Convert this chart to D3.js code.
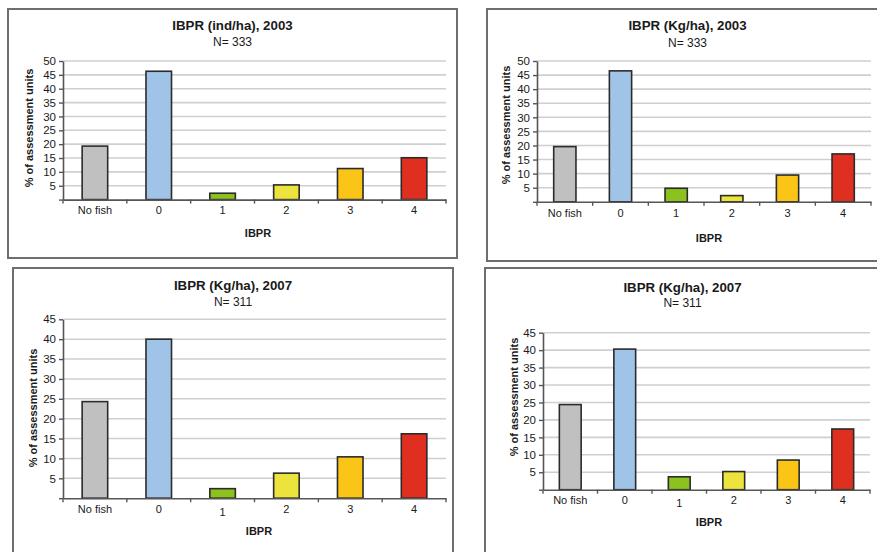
<!DOCTYPE html>
<html>
<head>
<meta charset="utf-8">
<script src="https://cdn.jsdelivr.net/npm/d3@7"></script>
<style>
  html, body { margin: 0; padding: 0; background: #fff; }
  svg { display: block; font-family: "Liberation Sans", Arial, sans-serif; }
</style>
</head>
<body>
<svg id="chart" width="877" height="552"></svg>
<script>
// Categories of the IBPR index
const categories = ["No fish", "0", "1", "2", "3", "4"];

// % of assessment units per category
const ind2003 = [19.3, 46.3, 2.3, 5.3, 11.2, 15.1];
const kg2003 = [19.6, 46.5, 4.8, 2.2, 9.5, 17.0];
const kg2007a = [24.3, 40.0, 2.4, 6.3, 10.4, 16.2];
const kg2007b = [24.4, 40.3, 3.7, 5.2, 8.5, 17.4];

// Y-axis tick values
const ticks50 = [0, 5, 10, 15, 20, 25, 30, 35, 40, 45, 50];
const ticks45 = [0, 5, 10, 15, 20, 25, 30, 35, 40, 45];

// Titles
const titles = ["IBPR (ind/ha), 2003", "IBPR (Kg/ha), 2003", "IBPR (Kg/ha), 2007", "IBPR (Kg/ha), 2007"];
const sampleSizes = ["N= 333", "N= 333", "N= 311", "N= 311"];
const xTitle = "IBPR";
const yTitle = "% of assessment units";

// Bar fill per category
const barColors = ["#c0c0c0", "#a0c3e8", "#8cc21e", "#ece43c", "#fbc518", "#de2f20"];

// Layout of each panel
const panels = [
  { values: ind2003, ticks: ticks50, box: [8, 9, 457, 258], x0: 63, x1: 446, top: 61, base: 199.6,
    titleX: 232.5, titleY: 25, nY: 42, xtX: 258, xtY: 233, ytX: 29, ytY: 128, oneDy: 0 },
  { values: kg2003, ticks: ticks50, box: [487, 9, 888, 261], x0: 537, x1: 871, top: 61, base: 201.8,
    titleX: 687.5, titleY: 25, nY: 43, xtX: 709, xtY: 238, ytX: 506, ytY: 125, oneDy: 0 },
  { values: kg2007a, ticks: ticks45, box: [13, 268, 453, 570], x0: 63, x1: 446, top: 319.3, base: 498.2,
    titleX: 233, titleY: 285, nY: 302, xtX: 259, xtY: 531, ytX: 33, ytY: 408, oneDy: 3 },
  { values: kg2007b, ticks: ticks45, box: [485, 268, 888, 570], x0: 543, x1: 870, top: 332.7, base: 489.7,
    titleX: 682.5, titleY: 287, nY: 303, xtX: 709, xtY: 522, ytX: 514, ytY: 397, oneDy: 3 }
];

const svg = d3.select("#chart");
const ink = "#1a1a1a";
const axisColor = "#555";

panels.forEach((p, i) => {
  const g = svg.append("g");
  const [bx0, by0, bx1, by1] = p.box;

  // panel frame
  g.append("rect")
    .attr("x", bx0).attr("y", by0)
    .attr("width", bx1 - bx0).attr("height", by1 - by0)
    .attr("fill", "#fff")
    .attr("stroke", "#6e6e6e").attr("stroke-width", 2);

  const maxV = p.ticks[p.ticks.length - 1];
  const y = d3.scaleLinear().domain([0, maxV]).range([p.base, p.top]);
  const x = d3.scaleBand().domain(categories).range([p.x0, p.x1])
    .paddingInner(0.6).paddingOuter(0.3);
  const step = x.step();

  // horizontal gridlines
  g.append("g").selectAll("line")
    .data(p.ticks.filter(t => t > 0))
    .join("line")
    .attr("x1", p.x0).attr("x2", p.x1)
    .attr("y1", d => y(d)).attr("y2", d => y(d))
    .attr("stroke", "#cfcfcf").attr("stroke-width", 1.6);

  // bars
  g.append("g").selectAll("rect")
    .data(p.values)
    .join("rect")
    .attr("x", (d, k) => x(categories[k]))
    .attr("width", x.bandwidth())
    .attr("y", d => y(d))
    .attr("height", d => y(0) - y(d))
    .attr("fill", (d, k) => barColors[k])
    .attr("stroke", "#2b2b2b").attr("stroke-width", 1.6);

  // y axis
  const yAxis = d3.axisLeft(y)
    .tickValues(p.ticks)
    .tickSize(4)
    .tickSizeOuter(0)
    .tickPadding(3)
    .tickFormat(d => d === 0 ? "" : d);
  const ya = g.append("g").attr("transform", `translate(${p.x0},0)`).call(yAxis);
  ya.select(".domain").attr("stroke", axisColor).attr("stroke-width", 1.6);
  ya.selectAll(".tick line").attr("stroke", axisColor).attr("stroke-width", 1.4);
  ya.selectAll(".tick text")
    .attr("fill", ink).style("font-size", "11.5px")
    .style("font-family", "Liberation Sans, Arial, sans-serif");

  // x axis: labels under bars, ticks between categories
  const xAxis = d3.axisBottom(x).tickSize(0).tickSizeOuter(0).tickPadding(7);
  const xa = g.append("g").attr("transform", `translate(0,${p.base})`).call(xAxis);
  xa.select(".domain").attr("stroke", axisColor).attr("stroke-width", 1.6);
  xa.selectAll(".tick text")
    .attr("fill", ink).style("font-size", "11px")
    .style("font-family", "Liberation Sans, Arial, sans-serif")
    .attr("dy", d => d === "1" ? (0.71 + p.oneDy / 11) + "em" : "0.71em");

  const boundaries = d3.range(categories.length + 1).map(k => p.x0 + k * step);
  g.append("g").selectAll("line")
    .data(boundaries)
    .join("line")
    .attr("x1", d => d).attr("x2", d => d)
    .attr("y1", p.base).attr("y2", p.base + 4)
    .attr("stroke", axisColor).attr("stroke-width", 1.4);

  // titles
  g.append("text")
    .attr("x", p.titleX).attr("y", p.titleY)
    .attr("text-anchor", "middle").attr("dominant-baseline", "central")
    .attr("fill", ink).style("font-size", "13.3px").style("font-weight", "bold")
    .text(titles[i]);
  g.append("text")
    .attr("x", p.titleX).attr("y", p.nY)
    .attr("text-anchor", "middle").attr("dominant-baseline", "central")
    .attr("fill", ink).style("font-size", "12px")
    .text(sampleSizes[i]);

  // axis titles
  g.append("text")
    .attr("x", p.xtX).attr("y", p.xtY)
    .attr("text-anchor", "middle").attr("dominant-baseline", "central")
    .attr("fill", ink).style("font-size", "11px").style("font-weight", "bold")
    .text(xTitle);
  g.append("text")
    .attr("transform", `translate(${p.ytX},${p.ytY}) rotate(-90)`)
    .attr("text-anchor", "middle").attr("dominant-baseline", "central")
    .attr("fill", ink).style("font-size", "11px").style("font-weight", "bold")
    .text(yTitle);
});
</script>
</body>
</html>
